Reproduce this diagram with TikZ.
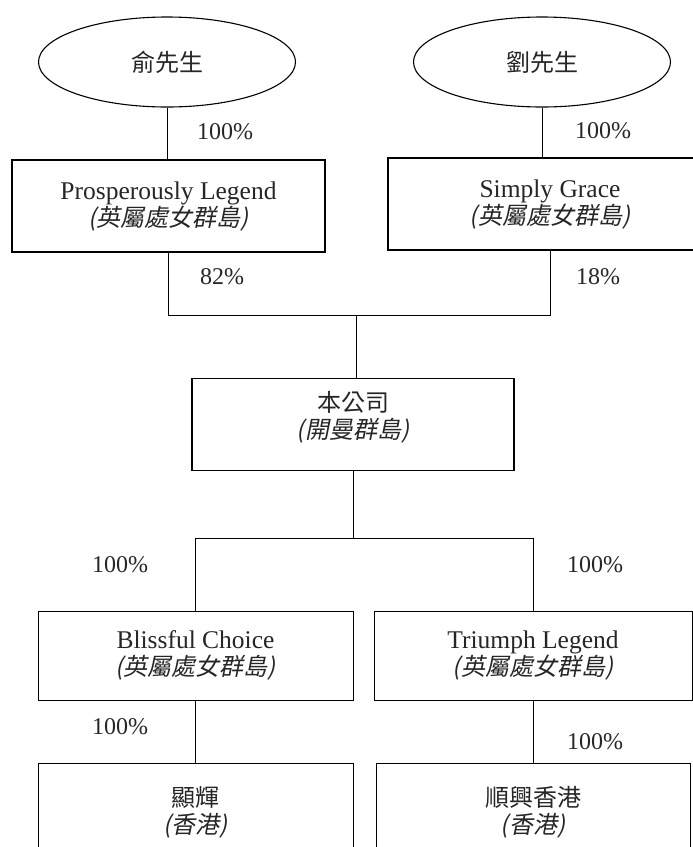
\documentclass[tikz,border=0pt]{standalone}
\usepackage{fontspec}
\setmainfont{Liberation Serif}
\newfontfamily\cjk{Noto Sans CJK TC}
\newfontfamily\cjkit[FakeSlant=0.2]{Noto Sans CJK TC}
\usetikzlibrary{shapes.geometric}

\begin{document}
\begin{tikzpicture}[x=1pt,y=-1pt,line width=0.9pt,
	every node/.style={font=\fontsize{24}{27}\selectfont,text=black!85},
	owner/.style={ellipse,draw,line width=1.1pt,minimum width=257pt,minimum height=90pt,inner sep=0pt},
	entity/.style={rectangle,draw,line width=1.2pt,minimum height=92pt,align=center,inner sep=0pt,
		font=\fontsize{25.5}{27}\selectfont},
	pct/.style={inner sep=0pt}]
	\useasboundingbox (0,0) rectangle (693,847);
	\clip (0,0) rectangle (693,847);
	\node[owner] (yu) at (167,62) {\cjk 俞先生};
	\node[owner] (lau) at (542,62) {\cjk 劉先生};
	\node[entity, minimum width=313pt] (pl) at (168.5,206) {Prosperously Legend\\{\cjkit\fontsize{24}{27}\selectfont (英屬處女群島)}};
	\node[entity, minimum width=324pt] (sg) at (550,204) {Simply Grace\\{\cjkit\fontsize{24}{27}\selectfont (英屬處女群島)}};
	\node[entity, line width=1.8pt, minimum width=322pt, minimum height=92pt] (co) at (353,424.5) {{\cjk\fontsize{24}{27}\selectfont 本公司}\\{\cjkit\fontsize{24}{27}\selectfont (開曼群島)}\\[-8pt]};
	\node[entity, line width=1pt, minimum width=315pt, minimum height=89pt] (bc) at (195.5,655.5) {Blissful Choice\\{\cjkit\fontsize{24}{27}\selectfont (英屬處女群島)}};
	\node[entity, line width=1pt, minimum width=318pt, minimum height=89pt] (tl) at (533,655.5) {Triumph Legend\\{\cjkit\fontsize{24}{27}\selectfont (英屬處女群島)}};
	\node[entity, line width=1pt, minimum width=315pt, minimum height=98pt] (hf) at (195.5,812) {{\cjk\fontsize{24}{27}\selectfont 顯輝}\\{\cjkit\fontsize{24}{27}\selectfont (香港)}};
	\node[entity, line width=1pt, minimum width=314pt, minimum height=98pt] (sh) at (533,812) {{\cjk\fontsize{24}{27}\selectfont 順興香港}\\{\cjkit\fontsize{24}{27}\selectfont (香港)}};
	\coordinate (j1) at (356,315);
	\coordinate (j2) at (355,538);
	% percentages
	\node[pct] (p1) at (225,132) {100\%};
	\node[pct] (p2) at (603,131) {100\%};
	\node[pct] (p3) at (222,277) {82\%};
	\node[pct] (p4) at (598,277) {18\%};
	\node[pct] (p5) at (120,565) {100\%};
	\node[pct] (p6) at (595,565) {100\%};
	\node[pct] (p7) at (120,727) {100\%};
	\node[pct] (p8) at (595,742) {100\%};
	% connectors
	\draw (yu.south) -- (yu.south |- pl.north);
	\draw (lau.south) -- (lau.south |- sg.north);
	\draw (pl.south) -- (pl.south |- j1) -- (sg.south |- j1) -- (sg.south);
	\draw (j1) -- (j1 |- co.north);
	\draw (co.south) -- (co.south |- j2);
	\draw (bc.north) -- (bc.north |- j2) -- (tl.north |- j2) -- (tl.north);
	\draw (bc.south) -- (bc.south |- hf.north);
	\draw (tl.south) -- (tl.south |- sh.north);
\end{tikzpicture}
\end{document}
